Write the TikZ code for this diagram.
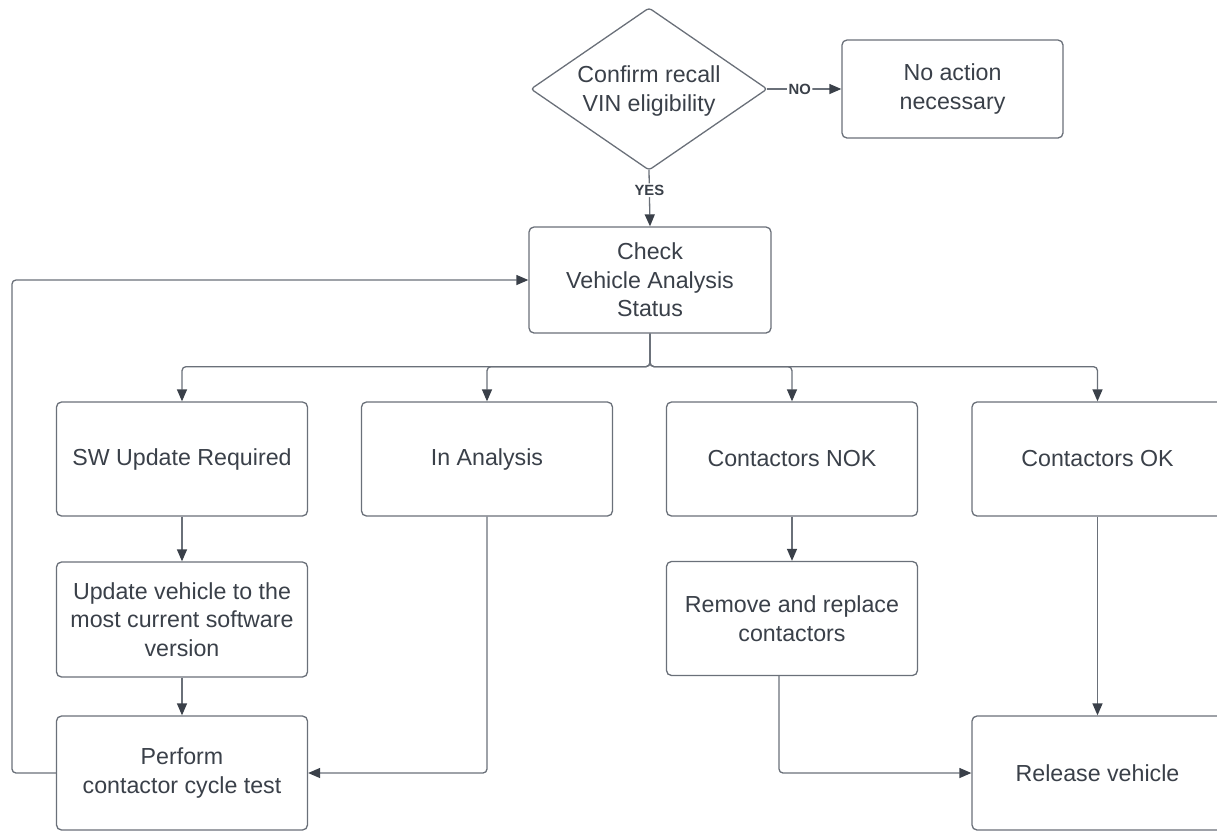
\documentclass[tikz,border=0pt]{standalone}
\usepackage{fontspec}
\setmainfont{Liberation Sans}
\usetikzlibrary{arrows.meta}
\definecolor{txt}{HTML}{3A4049}
\definecolor{ln}{HTML}{6A7079}
\definecolor{tip}{HTML}{3A4049}
\tikzset{
  x=0.5pt, y=-0.5pt,
  box/.style 2 args={draw=ln, line width=0.65pt, rounded corners=2.5pt, fill=white,
    minimum width=#1*0.5pt, minimum height=#2*0.5pt, inner sep=0pt, align=center,
    text=txt, font=\fontsize{11.6}{14.2}\selectfont},
  diatext/.style={inner sep=0pt, align=center, text=txt, font=\fontsize{11.6}{14.2}\selectfont},
  diaedge/.style={draw=ln, line width=0.65pt, rounded corners=1.5pt},
  conn/.style={draw=ln, line width=0.65pt, rounded corners=2pt,
    -{Triangle[length=6pt,width=5pt,color=tip]}},
  lab/.style={fill=white, inner sep=0.8pt, text=txt, font=\fontsize{7.4}{8}\selectfont\bfseries}
}
\begin{document}
\begin{tikzpicture}
\useasboundingbox (0,0) rectangle (1217,832);
\clip (0,0) rectangle (1217,832);
\coordinate (confN) at (649,8);
\coordinate (confE) at (767,89);
\coordinate (confS) at (649,170);
\coordinate (confW) at (531,89);
\draw[diaedge] (confN) -- (confE) -- (confS) -- (confW) -- cycle;
\node[diatext] (conf) at (649,91) {Confirm recall\\VIN eligibility};
\node[box={221}{98}] (noact) at (952.5,89) {No action\\necessary};
\node[box={242}{106}] (check) at (650,280) {Check\\Vehicle Analysis\\Status};
\node[box={251}{114}] (sw) at (182,459) {SW Update Required};
\node[box={251}{114}] (ana) at (487,459) {In Analysis};
\node[box={251}{114}] (nok) at (792,459) {Contactors NOK};
\node[box={251}{114}] (ok) at (1097.5,459) {Contactors OK};
\node[box={251}{115}] (upd) at (182,619.5) {\fontsize{11.6}{13.5}\selectfont Update vehicle to the\\most current software\\version};
\node[box={251}{114}] (rem) at (792,618.5) {Remove and replace\\contactors};
\node[box={251}{114}] (perf) at (182,773) {Perform\\contactor cycle test};
\node[box={251}{114}] (rel) at (1097.5,773) {Release vehicle};
\coordinate (loopc) at (12,773);
\draw[conn] (confE) -- node[lab, pos=0.44] {NO} (noact.west);
\draw[conn] (confS) -- node[lab, pos=0.36] {YES} (check.north);
\draw[conn] (check.south) -- ++(0,33) -| (sw.north);
\draw[conn] (check.south) -- ++(0,33) -| (ana.north);
\draw[conn] (check.south) -- ++(0,33) -| (nok.north);
\draw[conn] (check.south) -- ++(0,33) -| (ok.north);
\draw[conn] (sw.south) -- (upd.north);
\draw[conn] (upd.south) -- (perf.north);
\draw[conn] (ana.south) |- (perf.east);
\draw[conn] (nok.south) -- (rem.north);
\draw[conn] ([xshift=-6.5pt]rem.south) |- (rel.west);
\draw[conn] (ok.south) -- (rel.north);
\draw[conn] (perf.west) -- (loopc) |- (check.west);
\end{tikzpicture}
\end{document}
